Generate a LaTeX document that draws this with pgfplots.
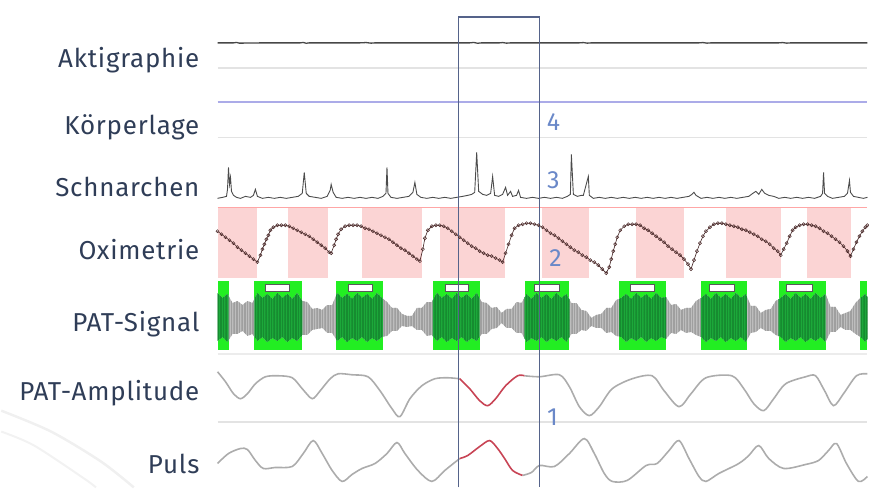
\documentclass[border=0pt]{standalone}
\usepackage{pgfplots}
\pgfplotsset{compat=1.18}
\usepackage{pgfplotstable}
\usepgfplotslibrary{fillbetween}
\usetikzlibrary{patterns.meta}
\usepackage{fontspec}
\setmainfont{Fira Sans}
\newfontfamily\labfont[LetterSpace=3]{Fira Sans}
\definecolor{labtxt}{HTML}{2F3D57}
\definecolor{numblue}{HTML}{6A88C8}
\definecolor{pinkband}{HTML}{FBD4D4}
\definecolor{greenband}{HTML}{22EE22}
\definecolor{darkgreen}{HTML}{1CA83A}
\definecolor{darkergreen}{HTML}{168C30}
\definecolor{sigred}{HTML}{C84455}
\definecolor{selcol}{HTML}{55638A}
\definecolor{purp}{HTML}{ABABE8}

\pgfplotstableread{
x u l
217 294 342
222 299 338
227 295 343
232 304 335
237 302 335
242 306 332
247 302 337
252 304 335
257 294 342
262 299 338
267 295 343
272 300 339
277 294 342
282 299 338
287 295 343
292 300 339
297 294 342
302 302 336
307 303 336
312 310 331
317 309 330
322 311 329
327 306 334
332 306 334
337 294 342
342 299 338
347 295 343
352 300 339
357 294 342
362 299 338
367 295 343
372 300 339
377 294 342
382 299 338
387 303 337
392 309 332
397 309 332
402 315 327
407 317 328
412 317 327
417 309 331
422 309 331
427 303 337
432 303 336
437 294 342
442 299 338
447 295 343
452 300 339
457 294 342
462 299 338
467 295 343
472 300 339
477 294 342
482 303 335
487 304 335
492 309 330
497 308 329
502 314 324
507 310 329
512 310 329
517 303 334
522 304 334
527 295 343
532 300 339
537 294 342
542 299 338
547 295 343
552 300 339
557 294 342
562 299 338
567 295 343
572 304 335
577 304 335
582 311 331
587 312 332
592 319 327
597 316 329
602 315 329
607 309 334
612 309 333
617 301 337
622 299 338
627 295 343
632 300 339
637 294 342
642 299 338
647 295 343
652 300 339
657 294 342
662 299 338
667 298 340
672 306 334
677 305 335
682 311 331
687 309 334
692 309 333
697 302 336
702 299 338
707 295 343
712 300 339
717 294 342
722 299 338
727 295 343
732 300 339
737 294 342
742 299 338
747 295 343
752 307 334
757 307 333
762 314 329
767 311 332
772 310 332
777 302 336
782 299 338
787 295 343
792 300 339
797 294 342
802 299 338
807 295 343
812 300 339
817 294 342
822 299 338
827 295 343
832 308 333
837 308 333
842 316 328
847 314 331
852 312 331
857 304 335
862 299 338
867 295 343
869 298 340
}\patsig

\pgfplotstableread{
x y
217 232
221 235
225 238
229 241
233 244
237 248
241 251
245 254
249 257
253 260
257 263
260 256
262 250
264 245
266 240
268 236
270 231
273 228
277 226
281 226
285 226
289 227
293 229
297 231
301 233
305 235
309 237
313 240
317 243
321 246
325 249
329 253
331 254
334 246
336 240
338 235
341 230
345 227
349 226
353 226
357 226
361 227
365 229
369 230
373 232
377 234
381 236
385 238
389 240
393 243
397 246
401 249
405 251
409 254
413 257
417 260
420 262
423 250
425 239
428 231
432 227
436 226
440 226
444 227
448 229
452 232
456 235
460 238
464 241
468 244
472 247
476 249
480 252
484 254
488 256
492 257
496 259
500 261
503 263
506 254
509 245
512 236
515 229
519 226
523 225
527 224
531 224
535 225
539 226
543 228
547 231
551 234
555 236
559 239
563 242
567 245
571 248
575 251
579 253
583 256
587 258
591 261
595 263
599 266
603 270
607 274
610 268
612 260
614 252
616 245
618 238
621 231
625 227
629 225
633 225
637 225
641 226
645 229
649 231
653 234
657 237
661 240
665 243
669 247
673 250
677 253
681 256
685 260
689 265
692 270
695 261
698 252
701 244
704 237
707 232
711 228
715 225
719 224
723 224
727 225
731 226
735 227
739 228
743 230
747 231
751 233
755 235
759 237
763 240
767 242
771 245
775 249
779 252
782 256
785 250
788 244
791 237
794 231
797 228
801 226
805 225
809 225
813 226
817 227
821 229
825 232
829 234
833 237
837 240
841 243
845 247
849 252
852 257
855 250
858 243
861 237
864 232
867 228
869 226
}\oxi

\pgfplotstableread{
x y
217 199
222 198
226 197
227 190
228 168
229 185
230 178
231 192
233 196
236 198
240 199
245 197
250 198
253 196
255 190
257 197
262 199
268 198
274 199
280 198
286 199
292 198
298 197
302 194
304 173
306 194
309 197
315 198
321 199
327 197
330 191
331 185
333 193
336 198
342 199
348 198
354 199
360 198
366 199
372 198
378 199
383 197
386 194
387 168
388 194
391 198
397 199
403 198
409 197
413 193
415 183
417 195
421 198
427 199
433 198
439 199
445 198
451 199
457 198
463 197
468 196
472 195
475 193
477 153
479 192
483 195
487 196
491 194
493 177
495 196
499 197
503 195
506 188
508 196
511 192
513 197
517 196
519 191
521 198
527 199
533 198
539 199
545 198
551 199
557 198
563 199
568 197
571 195
572 155
574 195
578 197
582 196
584 196
589 177
590 196
594 199
600 198
606 199
612 198
618 199
624 198
630 199
636 198
642 199
648 198
654 199
660 198
666 199
672 198
678 199
684 198
690 197
693 195
695 193
697 196
702 199
708 198
714 199
720 198
726 199
732 198
738 199
744 198
750 197
754 194
757 192
760 195
763 190
766 194
770 196
775 197
780 199
786 198
792 199
798 198
804 199
810 198
816 199
822 197
824 194
825 173
826 194
829 197
834 199
840 198
846 197
849 194
851 181
852 193
855 197
860 198
865 199
869 198
}\snore

\begin{document}
\begin{tikzpicture}
\begin{axis}[
  width=652pt, height=489pt, scale only axis,
  xmin=217, xmax=869, ymin=0, ymax=489, y dir=reverse,
  hide axis, clip=false, set layers,
]
% invisible frame for page size
\addplot[draw=none] coordinates {(0,0) (869,489)};

% decorative arcs bottom-left
\addplot[smooth, gray!12, line width=2.5pt] coordinates {(0,412) (50,433) (100,463) (133,489)};
\addplot[smooth, gray!10, line width=2pt] coordinates {(0,433) (33,447) (83,480) (95,489)};

% separators
\addplot[gray!22, line width=1.8pt] coordinates {(217,68) (869,68)};
\addplot[gray!22, line width=1.8pt] coordinates {(217,138) (869,138)};
\addplot[gray!15, line width=1.5pt] coordinates {(217,355) (869,355)};
\addplot[gray!22, line width=1.8pt] coordinates {(217,423) (869,423)};
\addplot[purp, line width=2pt] coordinates {(217,102) (869,102)};
\addplot[red!35, line width=0.8pt] coordinates {(217,208) (869,208)};

% Aktigraphie
\addplot[black!72, line width=1.3pt] coordinates {(217,43) (233,43) (236,42.6) (239,43.3) (262,43) (300,43) (303,42.6) (306,43.4) (309,43) (360,43) (366,42.7) (371,43.3) (375,43) (420,43) (470,43) (474,42.6) (478,43.4) (482,43) (500,43) (503,42.7) (507,43.3) (511,43) (580,43) (584,42.7) (588,43.3) (592,43) (650,43) (700,43) (704,42.7) (708,43.3) (712,43) (780,43) (784,42.7) (788,43.3) (792,43) (869,43)};

% Schnarchen
\addplot[black!70, line width=0.9pt] table[x=x,y=y]{\snore};

% Oximetry pink bands
\foreach \a/\b in {217/257,288/328,362/422,440/505,543/590,637/685,727/782,808/853}{
  \edef\tmp{\noexpand\addplot[on layer=axis background, fill=pinkband, draw=none] coordinates {(\a,209) (\b,209) (\b,279) (\a,279)} --cycle;}
  \tmp
}
\addplot[gray!70!red!40!black, line width=0.6pt, mark=o, mark size=1.6pt, mark options={gray!70!red!45!black, line width=0.5pt}] table[x=x,y=y]{\oxi};

% PAT green bands
\foreach \a/\b in {217/228,254/302,336/383,433/480,525/570,620/667,702/748,780/827,862/869}{
  \edef\tmp{\noexpand\addplot[on layer=axis background, fill=greenband, draw=none] coordinates {(\a,282) (\b,282) (\b,351) (\a,351)} --cycle;}
  \tmp
}
% PAT signal envelope
\addplot[name path=U, draw=none] table[x=x,y=u]{\patsig};
\addplot[name path=L, draw=none] table[x=x,y=l]{\patsig};
\addplot[fill=gray!52, draw=none] fill between[of=U and L];
\addplot[pattern={Lines[angle=90, distance=1.6pt, line width=0.4pt]}, pattern color=gray!75, draw=none] fill between[of=U and L];
\foreach \a/\b in {217/228,254/302,336/383,433/480,525/570,620/667,702/748,780/827,862/869}{
  \edef\tmp{\noexpand\addplot[fill=darkgreen, draw=none] fill between[of=U and L, soft clip={domain=\a:\b}];}
  \tmp
  \edef\tmp{\noexpand\addplot[pattern={Lines[angle=90, distance=1.6pt, line width=0.4pt]}, pattern color=darkergreen, draw=none] fill between[of=U and L, soft clip={domain=\a:\b}];}
  \tmp
}
% label boxes in green bands
\foreach \a/\b in {265/289,348/372,445/469,535/560,631/655,710/735,788/814}{
  \edef\tmp{\noexpand\addplot[fill=white, draw=gray!70!black, line width=0.5pt] coordinates {(\a,285) (\b,285) (\b,292) (\a,292)} --cycle;}
  \tmp
}

% PAT amplitude
\addplot[smooth, tension=0.5, gray!65, line width=1.6pt] coordinates {(217,373) (225,383) (233,395) (240,400) (247,395) (255,385) (265,378) (278,377) (292,379) (302,390) (312,400) (320,392) (330,380) (338,375) (352,376) (368,378) (380,392) (392,410) (400,418) (410,400) (422,387) (435,380) (448,379) (460,380)};
\addplot[smooth, tension=0.5, sigred, line width=1.6pt] coordinates {(460,380) (470,390) (480,402) (488,407) (496,400) (506,387) (518,377) (525,377)};
\addplot[smooth, tension=0.5, gray!65, line width=1.6pt] coordinates {(525,377) (540,378) (560,376) (570,388) (580,408) (590,417) (600,408) (613,390) (633,380) (653,377) (665,392) (680,408) (692,395) (707,379) (733,377) (745,390) (755,405) (765,412) (775,400) (787,385) (807,378) (817,377) (826,392) (835,407) (845,395) (858,377) (869,375)};

% Puls
\addplot[smooth, tension=0.5, gray!65, line width=1.6pt] coordinates {(217,465) (228,455) (240,450) (247,451) (255,462) (263,470) (275,469) (292,468) (303,455) (313,442) (322,455) (332,472) (342,483) (352,476) (362,470) (375,465) (387,455) (397,444) (405,455) (418,472) (432,483) (445,472) (460,460)};
\addplot[smooth, tension=0.5, sigred, line width=1.6pt] coordinates {(460,460) (468,457) (480,448) (490,442) (498,450) (505,460) (513,472) (523,477)};
\addplot[smooth, tension=0.5, gray!65, line width=1.6pt] coordinates {(523,477) (532,474) (540,467) (555,468) (570,455) (585,440) (595,455) (605,475) (613,483) (628,482) (647,467) (658,465) (670,452) (680,442) (690,460) (700,478) (707,483) (720,475) (740,465) (750,457) (760,447) (770,460) (785,470) (807,466) (820,462) (830,452) (838,445) (848,465) (860,483) (869,478)};

% selection window
\addplot[selcol, line width=1.3pt] coordinates {(459,489) (459,17) (540,17) (540,489)};

% numbers
\node[text=numblue, font=\fontsize{25}{26}\selectfont] at (axis cs:554,122) {4};
\node[text=numblue, font=\fontsize{25}{26}\selectfont] at (axis cs:554,181) {3};
\node[text=numblue, font=\fontsize{25}{26}\selectfont] at (axis cs:556,259) {2};
\node[text=numblue, font=\fontsize{25}{26}\selectfont] at (axis cs:553,419) {1};

% labels
\node[anchor=base east, text=labtxt, font=\labfont\fontsize{26}{30}\selectfont, inner sep=0pt] at (axis cs:199,68) {Aktigraphie};
\node[anchor=base east, text=labtxt, font=\labfont\fontsize{26}{30}\selectfont, inner sep=0pt] at (axis cs:199,135) {Körperlage};
\node[anchor=base east, text=labtxt, font=\labfont\fontsize{26}{30}\selectfont, inner sep=0pt] at (axis cs:199,197) {Schnarchen};
\node[anchor=base east, text=labtxt, font=\labfont\fontsize{26}{30}\selectfont, inner sep=0pt] at (axis cs:199,260) {Oximetrie};
\node[anchor=base east, text=labtxt, font=\labfont\fontsize{26}{30}\selectfont, inner sep=0pt] at (axis cs:199,333) {PAT-Signal};
\node[anchor=base east, text=labtxt, font=\labfont\fontsize{26}{30}\selectfont, inner sep=0pt] at (axis cs:199,402) {PAT-Amplitude};
\node[anchor=base east, text=labtxt, font=\labfont\fontsize{26}{30}\selectfont, inner sep=0pt] at (axis cs:199,475) {Puls};
\end{axis}
\end{tikzpicture}
\end{document}
